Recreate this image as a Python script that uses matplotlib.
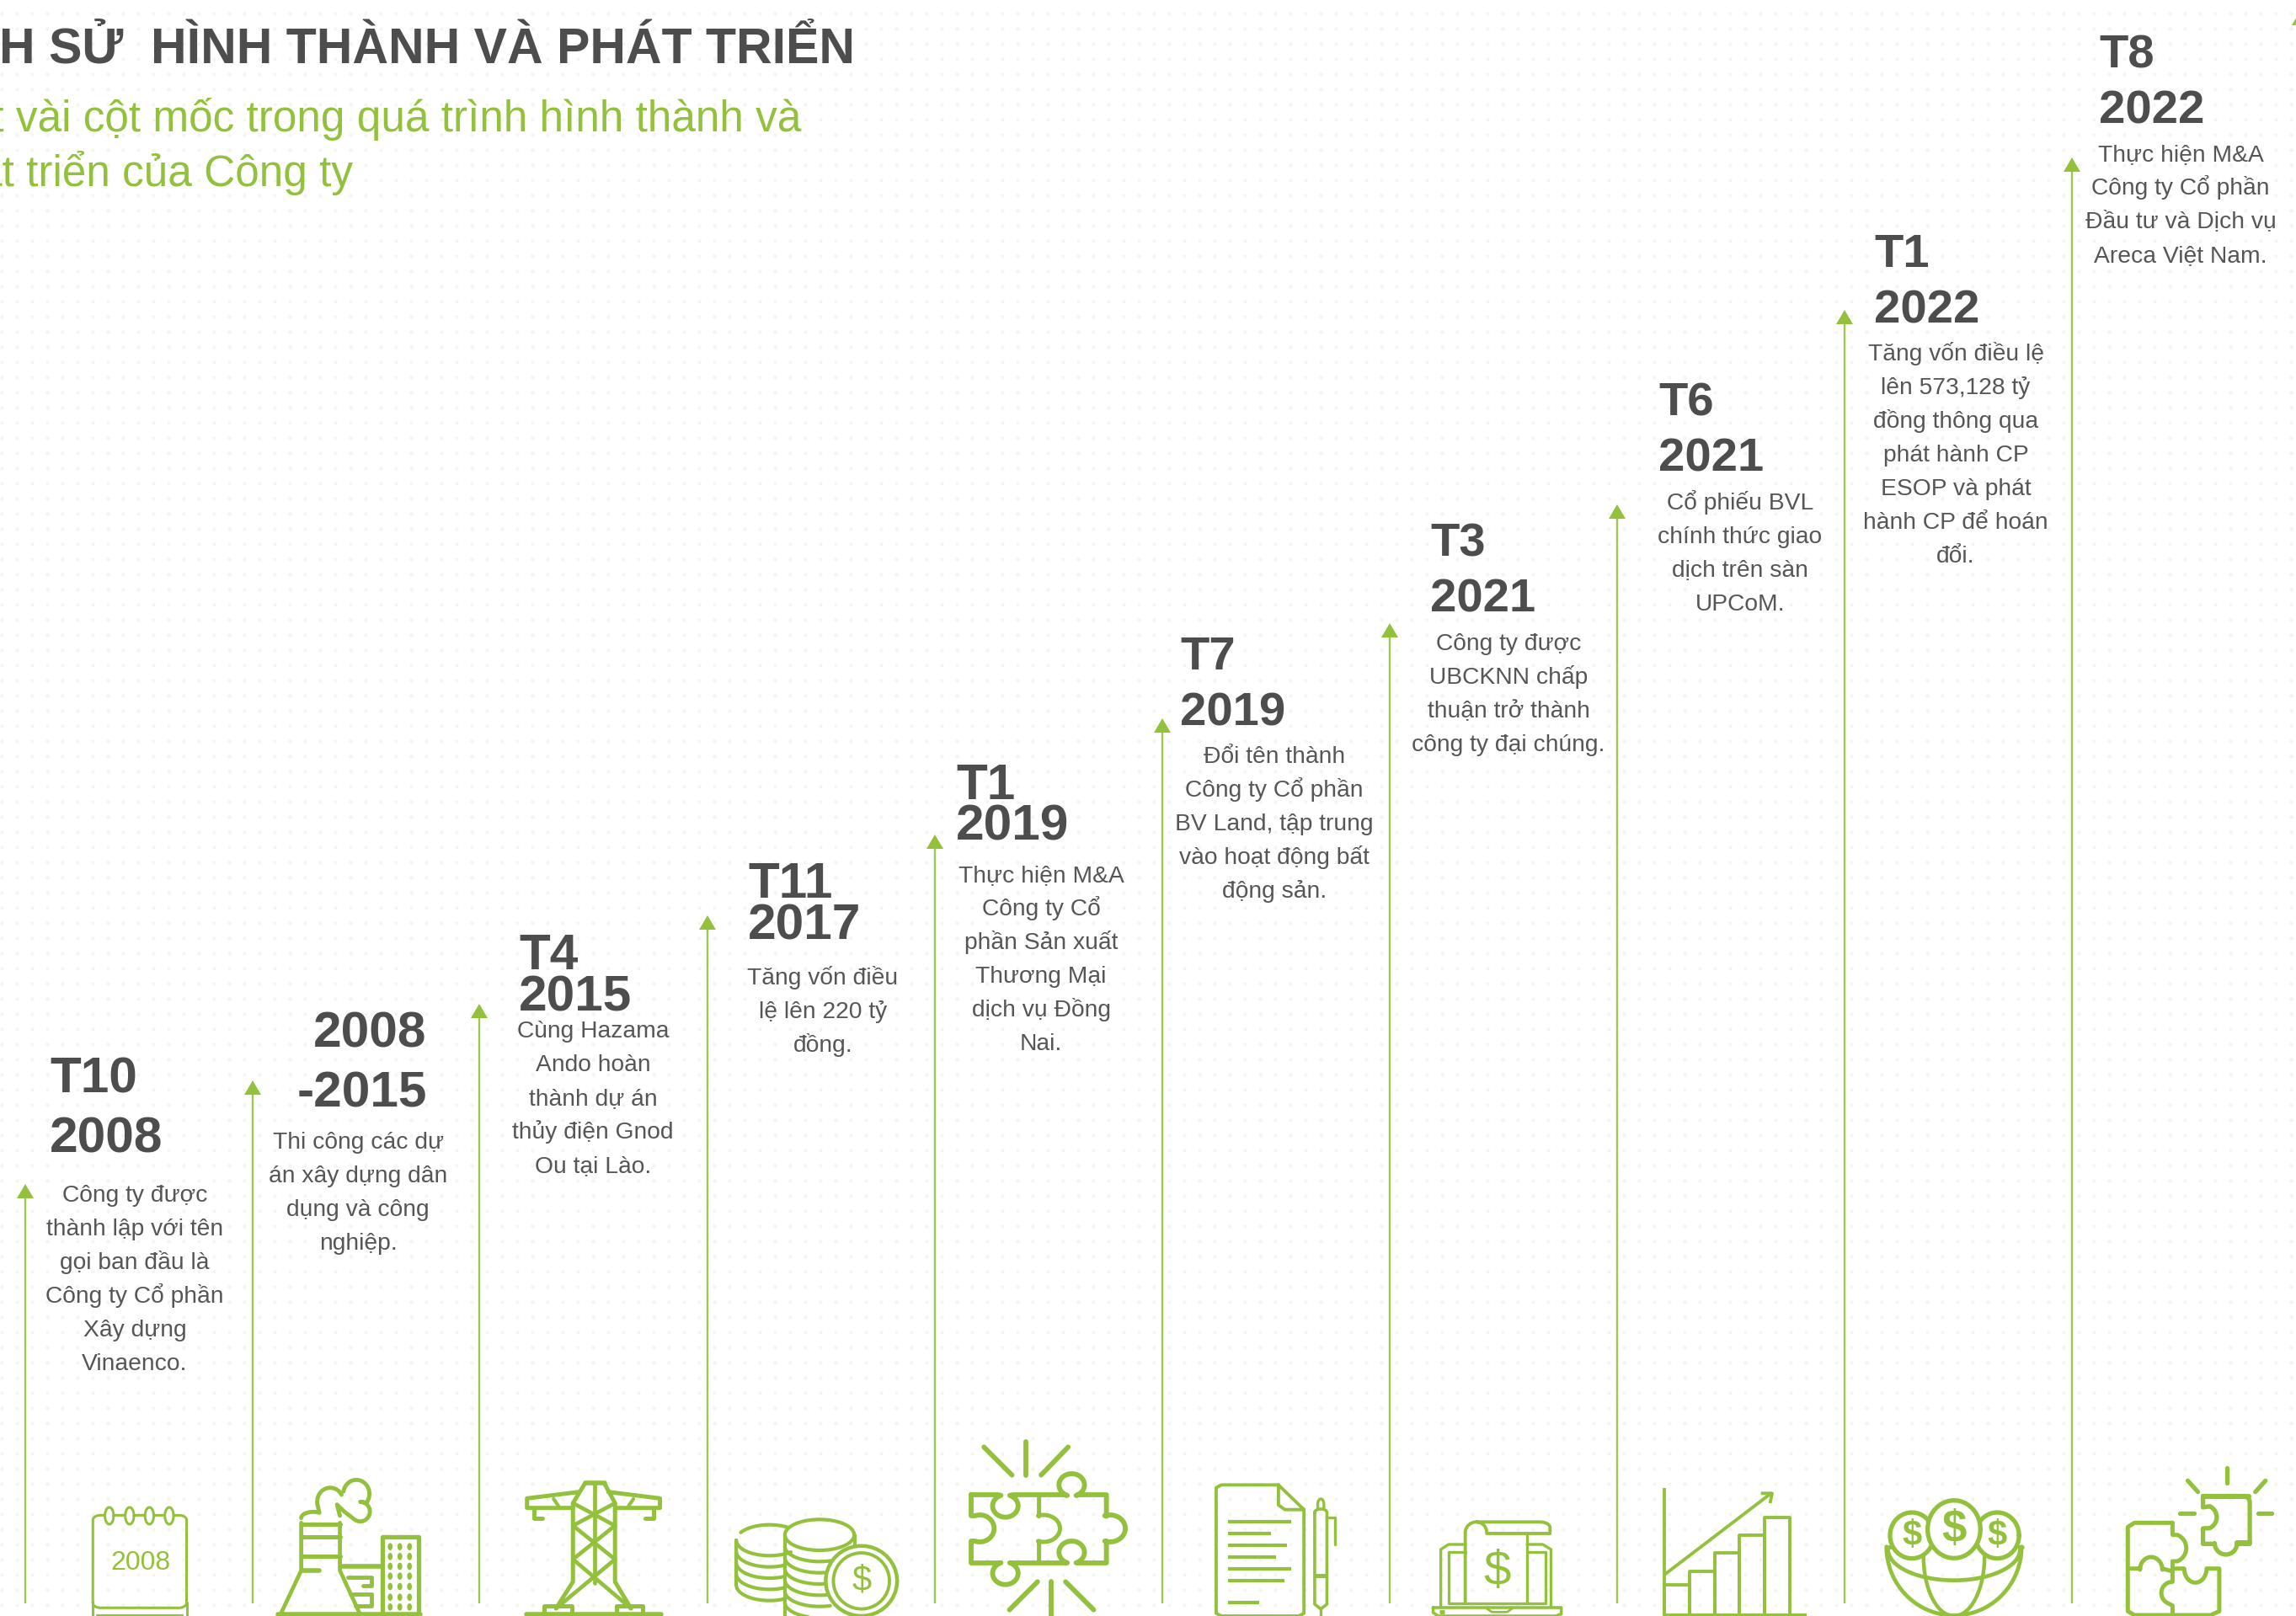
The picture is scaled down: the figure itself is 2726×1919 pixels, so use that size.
import numpy as np
import matplotlib
matplotlib.use('Agg')
import matplotlib.pyplot as plt
from matplotlib.patches import Polygon

plt.rcParams['font.family'] = ['Liberation Sans', 'DejaVu Sans']

# milestones
head_top = ['T10', '2008', 'T4', 'T11', 'T1', 'T7', 'T3', 'T6', 'T1', 'T8']
head_bot = ['2008', '-2015', '2015', '2017', '2019', '2019', '2021', '2021', '2022', '2022']
body_lines = [
    ['Công ty được', 'thành lập với tên', 'gọi ban đầu là', 'Công ty Cổ phần', 'Xây dựng', 'Vinaenco.'],
    ['Thi công các dự', 'án xây dựng dân', 'dụng và công', 'nghiệp.'],
    ['Cùng Hazama', 'Ando hoàn', 'thành dự án', 'thủy điện Gnod', 'Ou tại Lào.'],
    ['Tăng vốn điều', 'lệ lên 220 tỷ', 'đồng.'],
    ['Thực hiện M&A', 'Công ty Cổ', 'phần Sản xuất', 'Thương Mại', 'dịch vụ Đồng', 'Nai.'],
    ['Đổi tên thành', 'Công ty Cổ phần', 'BV Land, tập trung', 'vào hoạt động bất', 'động sản.'],
    ['Công ty được', 'UBCKNN chấp', 'thuận trở thành', 'công ty đại chúng.'],
    ['Cổ phiếu BVL', 'chính thức giao', 'dịch trên sàn', 'UPCoM.'],
    ['Tăng vốn điều lệ', 'lên 573,128 tỷ', 'đồng thông qua', 'phát hành CP', 'ESOP và phát', 'hành CP để hoán', 'đổi.'],
    ['Thực hiện M&A', 'Công ty Cổ phần', 'Đầu tư và Dịch vụ', 'Areca Việt Nam.'],
]

# arrow heights and where things sit, in image pixels
arrow_x = [30, 300, 569, 840, 1110, 1380, 1650, 1920, 2190, 2460, 2731]
arrow_top = [1406, 1283, 1192, 1087, 991, 853, 740, 599, 368, 187, 13]
head_x1 = [59, 372, 616, 888, 1135, 1401, 1698, 1969, 2225, 2492]
head_x2 = [59, 353, 616, 888, 1135, 1401, 1698, 1969, 2225, 2492]
head_y1 = [1297, 1243, 1151, 1066, 949, 795, 660, 493, 317, 80]
head_y2 = [1368, 1314, 1200, 1115, 997, 861, 726, 559, 383, 146]
head_size = [43.5, 43.5, 43.5, 43.5, 43.5, 40.5, 40.5, 40.5, 40.5, 40.5]
body_x = [160, 425, 704, 977, 1236, 1513, 1791, 2066, 2322, 2589]
body_y = [1427, 1364, 1232, 1169, 1047, 906, 772, 605, 428, 191]

GREEN = '#94c13d'
LINE_GREEN = '#9cc84c'
DARK = '#4d4d4d'
BODY = '#565656'
DOT = '#f4f7e6'

fig = plt.figure(figsize=(27.26, 19.19), dpi=100)
ax = fig.add_axes([0, 0, 1, 1])
ax.set_xlim(0, 2726)
ax.set_ylim(1919, 0)
ax.axis('off')

# dotted background
gx, gy = np.meshgrid(np.arange(2, 2726, 18), np.arange(16, 1919, 18))
ax.scatter(gx.ravel(), gy.ravel(), s=9, color=DOT, linewidths=0, zorder=0)

# title
ax.text(1015, 74, 'LỊCH SỬ  HÌNH THÀNH VÀ PHÁT TRIỂN', ha='right', va='baseline',
        fontsize=42.5, fontweight='bold', color=DARK)
ax.text(951, 156, 'Một vài cột mốc trong quá trình hình thành và', ha='right', va='baseline',
        fontsize=37, color=GREEN)
ax.text(419, 221, 'phát triển của Công ty', ha='right', va='baseline', fontsize=37, color=GREEN)

# arrows
for x, top in zip(arrow_x, arrow_top):
    ax.plot([x, x], [top + 14, 1904], color=LINE_GREEN, lw=1.7, solid_capstyle='butt', zorder=2)
    ax.add_patch(Polygon([(x, top), (x - 10, top + 17), (x + 10, top + 17)], closed=True,
                         facecolor=GREEN, edgecolor='none', zorder=3))

# milestone text
for i in range(len(head_top)):
    ax.text(head_x1[i], head_y1[i], head_top[i], fontsize=head_size[i], fontweight='bold',
            color=DARK, ha='left', va='baseline', zorder=4)
    ax.text(head_x2[i], head_y2[i], head_bot[i], fontsize=head_size[i], fontweight='bold',
            color=DARK, ha='left', va='baseline', zorder=4)
    for j, s in enumerate(body_lines[i]):
        ax.text(body_x[i], body_y[i] + 40 * j, s, fontsize=20.3, color=BODY,
                ha='center', va='baseline', zorder=4)


class Icon:
    def __init__(self, ox, sx):
        self.ox = ox
        self.sx = sx

    def fx(self, x):
        return self.ox + np.asarray(x, dtype=float) / self.sx

    def fy(self, y):
        return 1680 + np.asarray(y, dtype=float) / 3

    def line(self, pts, lw=3.5, color=GREEN, z=5, cap='round'):
        pts = np.asarray(pts, dtype=float)
        ax.plot(self.fx(pts[:, 0]), self.fy(pts[:, 1]), color=color, lw=lw, zorder=z,
                solid_capstyle=cap, solid_joinstyle='round')

    def ell(self, cx, cy, rx, ry, lw=3.5, fill=None, z=5, color=GREEN):
        pts = arc(cx, cy, rx, ry, 0, 360)
        if fill is not None:
            ax.fill(self.fx(pts[:, 0]), self.fy(pts[:, 1]), color=fill, lw=0, zorder=z)
        if lw > 0:
            self.line(pts, lw=lw, z=z, color=color)

    def text(self, x, y, s, size, weight='normal'):
        ax.text(self.fx(x), self.fy(y), s, fontsize=size, fontweight=weight, color=GREEN,
                ha='center', va='center', zorder=7)


def arc(cx, cy, rx, ry, t0, t1, n=40):
    t = np.radians(np.linspace(t0, t1, n))
    return np.column_stack([cx + rx * np.cos(t), cy + ry * np.sin(t)])


def chain(*parts):
    out = []
    for p in parts:
        out.extend(np.asarray(p, dtype=float).tolist())
    return out


# calendar
ic = Icon(0, 1.742)
ic.line(chain([(192, 670), (192, 375)], arc(208, 375, 16, 17, 180, 270), arc(370, 375, 16, 17, 270, 360),
              [(386, 670)], arc(370, 670, 16, 18, 0, 90), arc(208, 670, 16, 18, 90, 180)), lw=2.2)
ic.line([(192, 670), (192, 730)], lw=2.2)
ic.line([(386, 670), (386, 730)], lw=2.2)
ic.line([(200, 713), (378, 713)], lw=1.6)
for cx in [226, 268, 309, 350]:
    ic.ell(cx, 360, 9, 30, lw=2.2, fill='white', z=6)
ic.text(290, 527, '2008', 23)

# factory
ic.line([(623, 385), (623, 555), (580, 712)], lw=3.4)
ic.line([(703, 385), (703, 555), (745, 712)], lw=3.4)
for y in [390, 435, 505]:
    ic.line([(623, y), (703, y)], lw=3.6)
ic.line([(623, 556), (660, 556)], lw=4)
ic.line(chain(arc(648, 368, 25, 22, 180, 300), arc(683, 310, 27, 50, 160, 330)), lw=3.5)
ic.line(chain(arc(737, 282, 27, 50, 190, 400), arc(745, 345, 20, 35, -90, 130), [(712, 345), (697, 320), (703, 360)]), lw=3.5)
ic.line([(575, 712), (870, 712)], lw=4)
ic.line([(705, 540), (790, 540)], lw=4)
ic.line([(720, 580), (768, 580), (768, 610), (750, 610)], lw=3.5)
ic.line([(725, 638), (768, 638), (768, 680), (735, 680)], lw=3.5)
ic.line([(790, 712), (790, 436), (865, 436), (865, 712)], lw=3.8)
for cx in [807, 827, 847]:
    for cy in [470, 505, 540, 575, 612, 650, 685]:
        ic.ell(cx, cy, 5, 13, lw=0, fill=GREEN)

# pylon
ic.line([(1210, 244), (1250, 244)], lw=4)
ic.line([(1210, 244), (1185, 315), (1185, 595), (1150, 690)], lw=3.6)
ic.line([(1250, 244), (1272, 315), (1272, 595), (1305, 690)], lw=3.6)
ic.line([(1230, 244), (1230, 600)], lw=3.4)
ic.line([(1198, 275), (1090, 298), (1090, 332), (1185, 332)], lw=3.6)
ic.line([(1258, 275), (1365, 298), (1365, 332), (1272, 332)], lw=3.6)
ic.line([(1145, 300), (1155, 325)], lw=3)
ic.line([(1310, 300), (1300, 325)], lw=3)
ic.line([(1105, 335), (1105, 370), (1122, 370)], lw=3.6)
ic.line([(1352, 335), (1352, 370), (1335, 370)], lw=3.6)
for a, b in [((1185, 315), (1272, 395)), ((1272, 315), (1185, 395)), ((1185, 395), (1272, 515)),
             ((1272, 395), (1185, 515)), ((1185, 515), (1305, 690)), ((1272, 515), (1150, 690))]:
    ic.line([a, b], lw=3.4)
ic.line([(1125, 712), (1125, 682), (1182, 682), (1182, 712)], lw=3.6)
ic.line([(1275, 712), (1275, 682), (1330, 682), (1330, 712)], lw=3.6)
ic.line([(1088, 712), (1368, 712)], lw=4)

# coins
ic = Icon(850, 1.65)
ic.line(arc(105, 447, 65, 55, 210, 320), lw=3)
ic.line(arc(105, 447, 65, 55, 50, 180), lw=3)
ic.line([(40, 447), (40, 605)], lw=3)
for k in [1, 2, 3, 4]:
    ic.line(arc(105, 447 + 40 * k, 65, 55, 62, 180), lw=3)
ic.ell(203, 428, 68, 55, lw=3, fill='white', z=5)
ic.line([(135, 430), (135, 717)], lw=3)
ic.line([(272, 430), (272, 470)], lw=3)
for k in [1, 2, 3, 4, 5, 6]:
    ic.line(arc(203, 428 + 40 * k, 68, 55, 72, 180), lw=3)
ic.ell(285, 592, 70, 125, lw=3.2, fill='white', z=6)
ic.ell(285, 592, 55, 100, lw=2.8, z=6)
ic.text(285, 592, '$', 30)

# puzzle with rays
ic.line(chain([(500, 285), (552, 285)], arc(567, 325, 25, 40, 250, -70), [(582, 285), (680, 285)],
              arc(697, 250, 25, 40, 110, 430), [(712, 285), (765, 285), (765, 362)],
              arc(772, 405, 30, 48, -110, 110), [(765, 450), (765, 528), (712, 528)],
              arc(697, 490, 25, 40, 70, -250), [(685, 528), (582, 528)],
              arc(567, 565, 25, 40, -70, 250), [(552, 528), (500, 528), (500, 450)],
              arc(517, 405, 28, 48, 110, -110), [(500, 360), (500, 285)]), lw=4.2)
ic.line(chain([(633, 290), (633, 362)], arc(642, 405, 32, 48, -110, 110), [(633, 450), (633, 525)]), lw=3.6)
for a, b in [((525, 115), (580, 215)), ((607, 95), (607, 215)), ((690, 115), (637, 215)),
             ((630, 595), (575, 695)), ((657, 595), (657, 730)), ((685, 595), (740, 695))]:
    ic.line([a, b], lw=4.2)

# document and pen
ic.line([(1102, 250), (990, 250), (980, 260), (980, 707), (990, 717), (1142, 717), (1152, 707),
         (1152, 338), (1102, 250), (1102, 322), (1115, 338), (1152, 338)], lw=2.8)
for y, x1 in zip([380, 423, 465, 507, 548, 590, 668], [1127, 1087, 1118, 1098, 1127, 1113, 1065]):
    ic.line([(1003, y), (x1, y)], lw=3, cap='butt')
ic.line(chain(arc(1185, 348, 12, 12, 180, 360), [(1197, 675), (1185, 692), (1173, 675), (1173, 348)]), lw=2.6)
ic.line(chain([(1179, 336)], arc(1185, 318, 6, 18, 180, 360), [(1191, 336)]), lw=2.4)
ic.line([(1185, 692), (1185, 730)], lw=2.4)
ic.line([(1173, 572), (1197, 572)], lw=3.5, cap='butt')
ic.line([(1197, 366), (1212, 366), (1212, 462)], lw=2.4)

# laptop with bill
ic.line(chain([(1468, 672), (1468, 420)], arc(1490, 420, 22, 38, 180, 270), [(1614, 382)],
              arc(1614, 402, 20, 20, 270, 360), [(1634, 423), (1510, 423)], arc(1490, 420, 20, 38, 0, -90)), lw=2.8)
ic.line([(1589, 423), (1589, 672)], lw=2.4)
ic.line([(1468, 462), (1435, 462), (1420, 480), (1420, 685)], lw=2.4)
ic.line([(1468, 488), (1435, 488), (1435, 672), (1626, 672), (1626, 488), (1589, 488)], lw=2.4)
ic.line([(1589, 462), (1620, 462), (1636, 480), (1636, 685)], lw=2.4)
ic.line([(1405, 687), (1656, 687), (1656, 710), (1645, 717), (1415, 717), (1405, 705), (1405, 687)], lw=2.6)
ic.line([(1510, 690), (1520, 703), (1550, 703), (1560, 690)], lw=2)
ic.line([(1417, 703), (1428, 703)], lw=3.5, cap='butt')
ic.text(1530, 560, '$', 42)

# growth chart
ic = Icon(1780, 1.6575)
ic.line([(325, 260), (325, 714), (605, 714)], lw=2.8, cap='butt')
for x0, x1, top in zip([325, 375, 425, 472, 522], [375, 425, 472, 522, 572], [605, 558, 493, 430, 367]):
    ic.line([(x0, 714), (x0, top), (x1, top), (x1, 714)], lw=2.8, cap='butt')
ic.line([(325, 570), (535, 280)], lw=2.8, cap='butt')
ic.line([(515, 280), (537, 280), (533, 315)], lw=2.8, cap='butt')

# globe with dollar coins
ic.line(arc(895, 470, 133, 245, 0, 180), lw=3.4)
ic.line(arc(895, 480, 130, 110, 0, 180), lw=3.4)
ic.line(arc(895, 505, 60, 212, 180, 90), lw=3.2)
ic.line(arc(895, 505, 60, 212, 0, 90), lw=3.2)
ic.line([(763, 470), (770, 470)], lw=3.4)
ic.line([(1022, 470), (1030, 470)], lw=3.4)
ic.ell(812, 430, 43, 82, lw=3.8, fill='white', z=6)
ic.ell(980, 430, 43, 82, lw=3.8, fill='white', z=6)
ic.ell(895, 408, 52, 103, lw=3.8, fill='white', z=6)
ic.text(812, 432, '$', 30, 'bold')
ic.text(980, 432, '$', 30, 'bold')
ic.text(895, 410, '$', 38, 'bold')

# loose puzzle pieces with rays
ic.line(chain([(1385, 290), (1465, 290)], arc(1465, 312, 12, 22, 270, 360), [(1477, 460), (1452, 460)],
              arc(1430, 458, 22, 40, 0, 180), [(1408, 460), (1385, 460), (1385, 405)],
              arc(1385, 365, 27, 45, 60, -60), [(1385, 330), (1385, 290)]), lw=3.8)
ic.line([(1385, 290), (1475, 290)], lw=4.4)
ic.line([(1452, 456), (1477, 456)], lw=4.4)
for a, b in [((1355, 235), (1375, 275)), ((1432, 190), (1432, 242)), ((1508, 235), (1488, 275)),
             ((1340, 351), (1368, 351)), ((1493, 351), (1520, 351))]:
    ic.line([a, b], lw=3.8)
ic.line(chain([(1325, 385), (1250, 385), (1237, 400), (1237, 700), (1250, 714), (1400, 714), (1417, 700),
               (1417, 548), (1392, 548)], arc(1370, 548, 22, 50, 0, 180), [(1348, 548), (1325, 548)]), lw=3.6)
ic.line(chain([(1325, 385), (1325, 428)], arc(1325, 475, 27, 50, -70, 70), [(1325, 522), (1325, 595)],
              arc(1325, 635, 22, 40, 250, 110), [(1325, 680), (1325, 714)]), lw=3.6)
ic.line(chain([(1237, 548), (1261, 548)], arc(1283, 552, 22, 45, 180, 360), [(1305, 548), (1325, 558)]), lw=3.6)

fig.savefig('out.png', dpi=100, facecolor='white')
